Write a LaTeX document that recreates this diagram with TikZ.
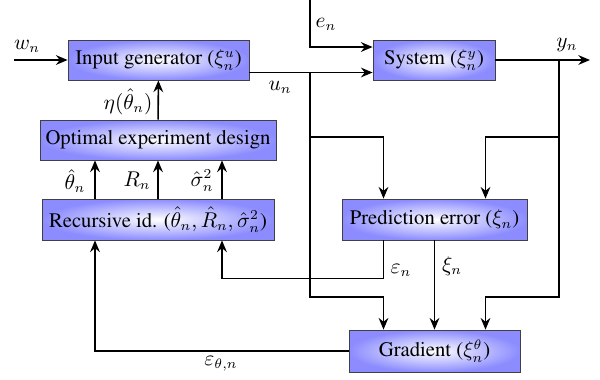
\documentclass[tikz,border=0pt]{standalone}
\usepackage[T1]{fontenc}
\usepackage{times}
\usetikzlibrary{calc,arrows.meta}

\tikzset{
        block/.style={draw=black!75, rectangle, inner sep=0pt, inner color=white, outer color=blue!45},
        link/.style={thick, -{Stealth[length=6pt,width=5pt,inset=2pt]}},
        lab/.style={inner sep=1pt}
}

\begin{document}
\begin{tikzpicture}[x=0.018cm, y=-0.018cm, font=\fontsize{10.6}{12.5}\selectfont]
        \useasboundingbox (0,0) rectangle (600,379);

        \node[block, minimum width=181*0.018cm, minimum height=40*0.018cm] (ig) at (158.5,60) {Input generator ($\xi_n^u$)};
        \node[block, minimum width=236*0.018cm, minimum height=40*0.018cm] (oed) at (158,140) {Optimal experiment design};
        \node[block, minimum width=122*0.018cm, minimum height=40*0.018cm] (sys) at (434,60) {System ($\xi_n^y$)};
        \node[block, minimum width=232*0.018cm, minimum height=41*0.018cm] (rid) at (158,219.5) {Recursive id. ($\hat{\theta}_n, \hat{R}_n, \hat{\sigma}_n^2$)};
        \node[block, minimum width=185*0.018cm, minimum height=41*0.018cm] (pe) at (434.5,219.5) {Prediction error ($\xi_n$)};
        \node[block, minimum width=171*0.018cm, minimum height=42*0.018cm] (grad) at (434.5,351) {Gradient ($\xi_n^\theta$)};

        \coordinate (w) at (14,60);
        \coordinate (e) at (310,0);
        \coordinate (u) at (310,72.5);
        \coordinate (ua) at (310,137);
        \coordinate (ub) at (310,297);
        \coordinate (y) at (559,60);
        \coordinate (ya) at (559,137);
        \coordinate (yb) at (559,297);
        \coordinate (yend) at (590,60);

        \draw[link] (w) -- (ig);
        \draw[link] (e) |- ($(sys.west)+(0,-13)$);
        \draw[link] (ig.east |- u) -- (sys.west |- u);
        \draw[link] (u) -- (ub) -| ($(grad.north)+(-51,0)$);
        \draw[link] (ua) -| ($(pe.north)+(-51,0)$);
        \draw[link] (sys) -- (yend);
        \draw[link] (y) -- (yb) -| ($(grad.north)+(51,0)$);
        \draw[link] (ya) -| ($(pe.north)+(51,0)$);
        \draw[link] ($(pe.south)+(-51,0)$) -- ++(0,38) -| ($(rid.south)+(64,0)$);
        \draw[link] (pe) -- (grad);
        \draw[link] (grad) -| ($(rid.south)+(-63,0)$);
        \draw[link] ($(rid.north)+(-63,0)$) -- ($(oed.south)+(-63,0)$);
        \draw[link] (rid) -- (oed);
        \draw[link] ($(rid.north)+(64,0)$) -- ($(oed.south)+(64,0)$);
        \draw[link] (oed) -- (ig);

        \node[lab] (lw) at (27,46) {$w_n$};
        \node[lab] (le) at (326,24) {$e_n$};
        \node[lab] (lu) at (280,87) {$u_n$};
        \node[lab] (ly) at (567,45) {$y_n$};
        \node[lab] (leta) at (128,102) {$\eta(\hat{\theta}_n)$};
        \node[lab] (lth) at (75,181) {$\hat{\theta}_n$};
        \node[lab] (lr) at (137,181) {$R_n$};
        \node[lab] (ls) at (202,181) {$\hat{\sigma}_n^2$};
        \node[lab] (leps) at (401,270) {$\varepsilon_n$};
        \node[lab] (lxi) at (452,266) {$\xi_n$};
        \node[lab] (lepst) at (221,364) {$\varepsilon_{\theta,n}$};
\end{tikzpicture}
\end{document}
